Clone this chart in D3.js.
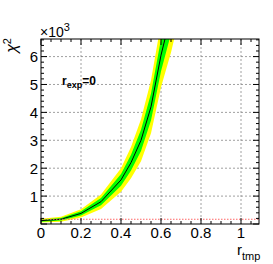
<!DOCTYPE html>
<html>
<head>
<meta charset="utf-8">
<script src="https://cdn.jsdelivr.net/npm/d3@7"></script>
<style>
  body { margin: 0; background: #fff; }
  svg { display: block; font-family: "Liberation Sans", Arial, sans-serif; }
</style>
</head>
<body>
<svg id="chart" width="273" height="264"></svg>
<script>
// chi2 scan vs r_tmp
const rTmp = [0, 0.1, 0.2, 0.3, 0.4, 0.45, 0.5, 0.55, 0.6, 0.65, 0.7];
const chi2 = [120, 170, 380, 800, 1580, 2200, 3000, 4200, 6050, 7500, 9200];
const band1 = [35, 45, 75, 130, 210, 280, 380, 480, 580, 680, 780];
const band2 = [70, 90, 150, 260, 420, 560, 750, 950, 1150, 1350, 1550];
const chi2Min = 170;
const xTicks = [0, 0.2, 0.4, 0.6, 0.8, 1];
const yTicks = [1000, 2000, 3000, 4000, 5000, 6000];

const svg = d3.select("#chart");
const mLeft = 41, mRight = 259, mTop = 39, mBottom = 224;

const x = d3.scaleLinear().domain([0, 1.09]).range([mLeft, mRight]);
const y = d3.scaleLinear().domain([0, 6630]).range([mBottom, mTop]);

svg.append("defs").append("clipPath").attr("id", "frame")
  .append("rect").attr("x", mLeft).attr("y", mTop)
  .attr("width", mRight - mLeft).attr("height", mBottom - mTop);

// grid
const grid = svg.append("g")
  .attr("stroke", "#888").attr("stroke-width", 0.8)
  .attr("stroke-dasharray", "2,2");
grid.selectAll(".gx").data(xTicks.filter((d) => d > 0)).enter().append("line")
  .attr("x1", (d) => x(d)).attr("x2", (d) => x(d))
  .attr("y1", mTop).attr("y2", mBottom);
grid.selectAll(".gy").data(yTicks).enter().append("line")
  .attr("x1", mLeft).attr("x2", mRight)
  .attr("y1", (d) => y(d)).attr("y2", (d) => y(d));

// bands + central curve
const plot = svg.append("g").attr("clip-path", "url(#frame)");
const pts = rTmp.map((r, i) => ({ r, c: chi2[i], s1: band1[i], s2: band2[i] }));

const area = (key) => d3.area()
  .x((d) => x(d.r))
  .y0((d) => y(d.c - d[key]))
  .y1((d) => y(d.c + d[key]));

plot.append("path").attr("d", area("s2")(pts)).attr("fill", "#ffff00");
plot.append("path").attr("d", area("s1")(pts)).attr("fill", "#00ff00");
plot.append("path")
  .attr("d", d3.line().x((d) => x(d.r)).y((d) => y(d.c))(pts))
  .attr("fill", "none").attr("stroke", "#000").attr("stroke-width", 1);

// minimum line
plot.append("line")
  .attr("x1", mLeft).attr("x2", mRight)
  .attr("y1", y(chi2Min)).attr("y2", y(chi2Min))
  .attr("stroke", "#ff6666").attr("stroke-width", 1)
  .attr("stroke-dasharray", "1.5,1.5");

// axes (ROOT style, ticks inside)
const xMinor = d3.range(0, 1.0901, 0.05);
const yMinor = d3.range(0, 6631, 200);

const ax = svg.append("g").attr("stroke", "#000").attr("stroke-width", 1);
ax.append("rect").attr("x", mLeft).attr("y", mTop)
  .attr("width", mRight - mLeft).attr("height", mBottom - mTop)
  .attr("fill", "none");

const isMajX = (d) => Math.abs(d * 5 - Math.round(d * 5)) < 1e-6;
ax.selectAll(".xt").data(xMinor).enter().append("line")
  .attr("x1", (d) => x(d)).attr("x2", (d) => x(d))
  .attr("y1", mBottom).attr("y2", (d) => mBottom - (isMajX(d) ? 6 : 3));
ax.selectAll(".xt2").data(xMinor).enter().append("line")
  .attr("x1", (d) => x(d)).attr("x2", (d) => x(d))
  .attr("y1", mTop).attr("y2", (d) => mTop + (isMajX(d) ? 6 : 3));
ax.selectAll(".yt").data(yMinor).enter().append("line")
  .attr("y1", (d) => y(d)).attr("y2", (d) => y(d))
  .attr("x1", mLeft).attr("x2", (d) => mLeft + (d % 1000 === 0 ? 6 : 3));
ax.selectAll(".yt2").data(yMinor).enter().append("line")
  .attr("y1", (d) => y(d)).attr("y2", (d) => y(d))
  .attr("x1", mRight).attr("x2", (d) => mRight - (d % 1000 === 0 ? 6 : 3));

// tick labels
svg.selectAll(".xl").data(xTicks).enter().append("text")
  .attr("x", (d) => x(d)).attr("y", 238)
  .attr("text-anchor", "middle").style("font-size", "15px")
  .text((d) => d3.format("~g")(d));
svg.selectAll(".yl").data(yTicks).enter().append("text")
  .attr("x", 38).attr("y", (d) => y(d) + 5.5)
  .attr("text-anchor", "end").style("font-size", "15px")
  .text((d) => d / 1000);

// exponent
const ex = svg.append("text").attr("x", 40).attr("y", 37).style("font-size", "14px");
ex.append("tspan").text("×10");
ex.append("tspan").attr("dy", -6).style("font-size", "11px").text("3");

// axis titles
const yt = svg.append("text")
  .attr("transform", "translate(17,38) rotate(-90)")
  .attr("text-anchor", "end").style("font-size", "16px");
yt.append("tspan").style("font-style", "italic").text("χ");
yt.append("tspan").attr("dy", -6).style("font-size", "11px").text("2");

const xt = svg.append("text").attr("x", 237).attr("y", 255).style("font-size", "15px");
xt.append("tspan").text("r");
xt.append("tspan").attr("dy", 5).style("font-size", "11px").text("tmp");

// label
const lab = svg.append("text").attr("x", 62).attr("y", 85)
  .style("font-size", "12px").style("font-weight", "bold");
lab.append("tspan").text("r");
lab.append("tspan").attr("dy", 3).style("font-size", "9px").text("exp");
lab.append("tspan").attr("dy", -3).text("=0");
</script>
</body>
</html>
